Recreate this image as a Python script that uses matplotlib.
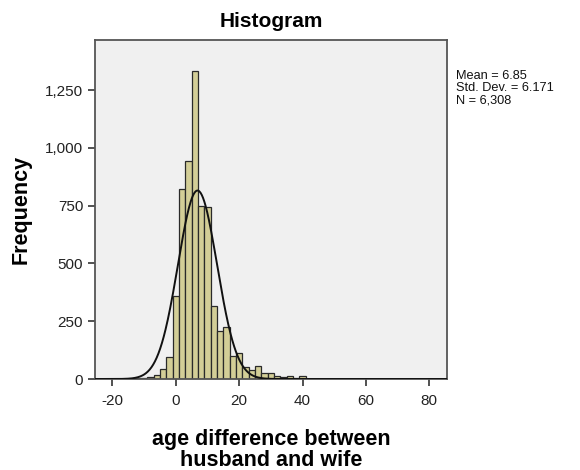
import numpy as np
import matplotlib
matplotlib.use("Agg")
import matplotlib.pyplot as plt

plt.rcParams['font.family'] = ['Liberation Sans', 'DejaVu Sans']
plt.rcParams['axes.unicode_minus'] = False

# bin centres (width 2) and counts
bin_centers = [-14, -12, -10, -8, -6, -4, -2, 0, 2, 4, 6, 8, 10, 12, 14, 16, 18,
               20, 22, 24, 26, 28, 30, 32, 34, 36, 38, 40]
counts = [2, 4, 6, 10, 16, 43, 97, 359, 822, 945, 1335, 750, 745, 314, 206, 227, 98,
          113, 52, 38, 55, 28, 25, 11, 7, 11, 6, 11]
bin_width = 2

mean = 6.85
std_dev = 6.171
n_total = 6308

fig = plt.figure(figsize=(5.8, 4.7), dpi=100)
ax = fig.add_axes([0.1638, 0.1936, 0.607, 0.7213])
ax.set_facecolor('#F0F0F0')

ax.bar(bin_centers, counts, width=bin_width, color='#D3CE97',
       edgecolor='#2a2a2a', linewidth=0.9, zorder=2)

# fitted normal curve from the displayed statistics
xs = np.linspace(-25.5, 85.5, 600)
ys = n_total * bin_width / (std_dev * np.sqrt(2 * np.pi)) * np.exp(-0.5 * ((xs - mean) / std_dev) ** 2)
ax.plot(xs, ys, color='#111111', linewidth=1.4, zorder=3)

ax.set_xlim(-25.5, 85.6)
ax.set_ylim(0, 1467)
ax.set_xticks([-20, 0, 20, 40, 60, 80])
ax.set_yticks([0, 250, 500, 750, 1000, 1250])
ax.set_yticklabels(['0', '250', '500', '750', '1,000', '1,250'])
ax.tick_params(axis='both', direction='out', length=5, width=1.2,
               labelsize=11, colors='#333333', labelcolor='#222222')
ax.tick_params(axis='x', pad=6)
ax.tick_params(top=False, right=False)
for s in ax.spines.values():
    s.set_color('#555555')
    s.set_linewidth(1.3)

ax.set_title('Histogram', fontsize=15, fontweight='bold', pad=9)
ax.set_xlabel('age difference between\nhusband and wife', fontsize=15.5,
              fontweight='bold', labelpad=15, linespacing=1.0)
ax.set_ylabel('Frequency', fontsize=15.5, fontweight='bold', labelpad=10)

fig.text(456 / 580, 1 - 70 / 470,
         'Mean = 6.85\nStd. Dev. = 6.171\nN = 6,308',
         fontsize=9.2, va='top', ha='left', linespacing=1.05, color='#111111')

fig.savefig('out.png', dpi=100)
